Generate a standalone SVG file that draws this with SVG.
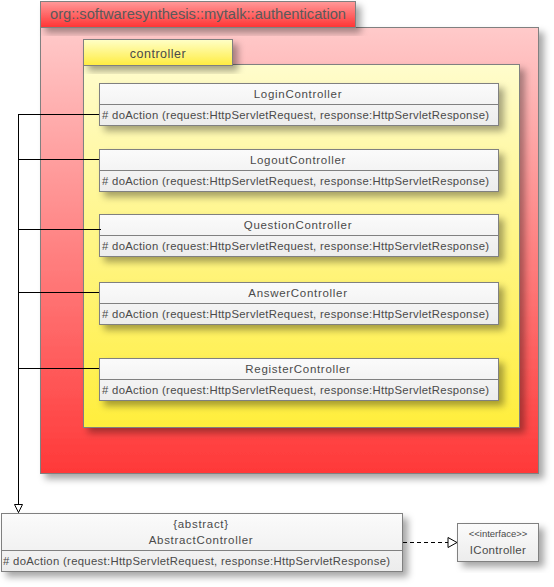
<svg xmlns="http://www.w3.org/2000/svg" width="554" height="587" viewBox="0 0 554 587">
<defs>
<linearGradient id="gRedTab" x1="0" y1="0" x2="0" y2="1"><stop offset="0" stop-color="#ff9a9a"/><stop offset="1" stop-color="#ff3333"/></linearGradient>
<linearGradient id="gRedBody" x1="0" y1="0" x2="0" y2="1"><stop offset="0" stop-color="#ffcaca"/><stop offset="1" stop-color="#ff3838"/></linearGradient>
<linearGradient id="gYelTab" x1="0" y1="0" x2="0" y2="1"><stop offset="0" stop-color="#ffffc8"/><stop offset="1" stop-color="#ffec40"/></linearGradient>
<linearGradient id="gYelBody" x1="0" y1="0" x2="0" y2="1"><stop offset="0" stop-color="#fffccc"/><stop offset="1" stop-color="#ffee3c"/></linearGradient>
<linearGradient id="gClass" x1="0" y1="0" x2="0" y2="1"><stop offset="0" stop-color="#fbfbfb"/><stop offset="1" stop-color="#ececec"/></linearGradient>
<filter id="sh" x="-10%" y="-10%" width="130%" height="140%"><feDropShadow dx="5" dy="5" stdDeviation="3.5" flood-color="#000" flood-opacity="0.35"/></filter>
<marker id="gen" markerWidth="10" markerHeight="12" refX="9" refY="5" orient="auto" markerUnits="userSpaceOnUse"><path d="M1,1 L9,5 L1,9 Z" fill="#fff" stroke="#000" stroke-width="1"/></marker>
<marker id="real" markerWidth="12" markerHeight="12" refX="10" refY="6" orient="auto" markerUnits="userSpaceOnUse"><path d="M1,1 L10,6 L1,11 Z" fill="#fff" stroke="#000" stroke-width="1"/></marker>
</defs>
<style>
.pk{stroke:#808080;stroke-width:1}
.cls{fill:url(#gClass);stroke:#808080;stroke-width:1}
.sep{stroke:#808080;stroke-width:1}
text{font-family:"Liberation Sans",Arial,sans-serif;fill:#4a4a4a;font-weight:normal}
.nm{font-size:11.5px;text-anchor:middle;letter-spacing:0.7px}
.at{font-size:11.3px}
.conn{stroke:#000;stroke-width:1;fill:none}
</style>
<g id="pkg-authentication">
<rect class="pk" x="40.5" y="27.5" width="498" height="446" fill="url(#gRedBody)" filter="url(#sh)"/>
<rect class="pk" x="40.5" y="1.5" width="315" height="26" fill="url(#gRedTab)" filter="url(#sh)"/>
<text x="50" y="19" style="font-size:15.5px;fill:#5a5a5a" textLength="296" lengthAdjust="spacingAndGlyphs">org::softwaresynthesis::mytalk::authentication</text>
</g>
<g id="pkg-controller">
<rect class="pk" x="83.5" y="64.5" width="436" height="363" fill="url(#gYelBody)" filter="url(#sh)"/>
<rect class="pk" x="83.5" y="39.5" width="149" height="26" fill="url(#gYelTab)" filter="url(#sh)"/>
<text x="158" y="58" style="font-size:12.5px;text-anchor:middle;letter-spacing:0.5px">controller</text>
</g>
<g id="LoginController">
<rect class="cls" x="99.5" y="83.5" width="399" height="42" filter="url(#sh)"/>
<line class="sep" x1="99.5" y1="104.5" x2="498.5" y2="104.5"/>
<text class="nm" x="298" y="98">LoginController</text>
<text class="at" x="102" y="119" textLength="387">#  doAction (request:HttpServletRequest, response:HttpServletResponse)</text>
</g>
<g id="LogoutController">
<rect class="cls" x="99.5" y="149.5" width="399" height="42" filter="url(#sh)"/>
<line class="sep" x1="99.5" y1="170.5" x2="498.5" y2="170.5"/>
<text class="nm" x="298" y="164">LogoutController</text>
<text class="at" x="102" y="185" textLength="387">#  doAction (request:HttpServletRequest, response:HttpServletResponse)</text>
</g>
<g id="QuestionController">
<rect class="cls" x="99.5" y="214.5" width="399" height="42" filter="url(#sh)"/>
<line class="sep" x1="99.5" y1="235.5" x2="498.5" y2="235.5"/>
<text class="nm" x="298" y="229">QuestionController</text>
<text class="at" x="102" y="250" textLength="387">#  doAction (request:HttpServletRequest, response:HttpServletResponse)</text>
</g>
<g id="AnswerController">
<rect class="cls" x="99.5" y="282.5" width="399" height="42" filter="url(#sh)"/>
<line class="sep" x1="99.5" y1="303.5" x2="498.5" y2="303.5"/>
<text class="nm" x="298" y="297">AnswerController</text>
<text class="at" x="102" y="318" textLength="387">#  doAction (request:HttpServletRequest, response:HttpServletResponse)</text>
</g>
<g id="RegisterController">
<rect class="cls" x="99.5" y="358.5" width="399" height="42" filter="url(#sh)"/>
<line class="sep" x1="99.5" y1="379.5" x2="498.5" y2="379.5"/>
<text class="nm" x="298" y="373">RegisterController</text>
<text class="at" x="102" y="394" textLength="387">#  doAction (request:HttpServletRequest, response:HttpServletResponse)</text>
</g>
<g id="AbstractController">
<rect class="cls" x="1.5" y="513.5" width="401" height="58" filter="url(#sh)"/>
<line class="sep" x1="1.5" y1="550.5" x2="402.5" y2="550.5"/>
<text class="nm" x="201" y="528">{abstract}</text>
<text class="nm" x="201" y="544">AbstractController</text>
<text class="at" x="3" y="565" textLength="387">#  doAction (request:HttpServletRequest, response:HttpServletResponse)</text>
</g>
<g id="IController">
<rect class="cls" x="457.5" y="523.5" width="81" height="38" filter="url(#sh)"/>
<text x="498" y="537" style="font-size:9.5px;text-anchor:middle">&lt;&lt;interface&gt;&gt;</text>
<text class="nm" x="498" y="554" style="letter-spacing:0.3px">IController</text>
</g>
<g id="connectors">
<path class="conn" d="M18.5,114.5 V512.5" marker-end="url(#gen)"/>
<line class="conn" x1="18" y1="114.5" x2="99" y2="114.5"/>
<line class="conn" x1="18" y1="159.5" x2="99" y2="159.5"/>
<line class="conn" x1="18" y1="229.5" x2="101" y2="229.5"/>
<line class="conn" x1="18" y1="292.5" x2="99" y2="292.5"/>
<line class="conn" x1="18" y1="368.5" x2="99" y2="368.5"/>
<path class="conn" d="M403,542.5 H457" stroke-dasharray="4,3" marker-end="url(#real)"/>
</g>
</svg>
